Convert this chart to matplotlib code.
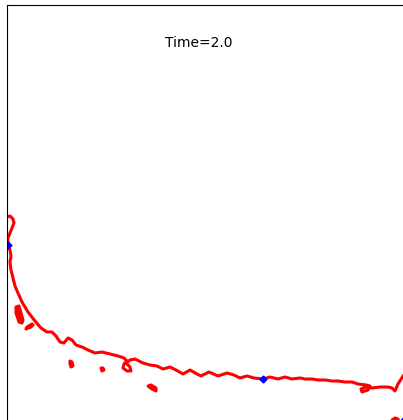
import matplotlib
matplotlib.use("Agg")
import matplotlib.pyplot as plt

# Interface contour at t = 2.0 (domain units)
front_x = [0, 3, 6, 7, 5, 3, 1, 1, 3, 4, 3, 4, 6, 8, 11, 15, 21, 28, 34, 40, 45, 49,
           53, 57, 61, 65, 69, 75, 81, 88, 95, 103, 111, 117, 120, 117, 116, 120, 124,
           123, 119, 123, 128, 136, 143, 150, 156, 163, 169, 176, 183, 190, 194, 202,
           211, 220, 227, 233, 240, 247, 256, 263, 271, 278, 285, 293, 298, 305, 311,
           318, 325, 331, 338, 345, 351, 359, 363, 361, 355, 354, 359, 365, 373, 381,
           385, 388, 391, 396, 401]
front_y = [208, 209, 206, 202, 197, 192, 187, 180, 175, 169, 163, 155, 147, 139, 132,
           123, 113, 104, 97, 93, 93, 89, 83, 82, 87, 85, 80, 78, 75, 72, 73, 71, 69,
           67, 64, 61, 57, 54, 54, 58, 62, 65, 66, 62, 60, 59, 56, 58, 55, 51, 55, 51,
           49, 53, 49, 52, 50, 47, 49, 47, 46, 48, 46, 48, 46, 47, 46, 46, 45, 45, 44,
           44, 43, 43, 41, 40, 39, 35, 33, 36, 38, 37, 38, 38, 37, 34, 41, 49, 55]

# Detached droplets
drop_a_x = [9, 12, 16, 15, 12, 9, 9]
drop_a_y = [118, 119, 105, 102, 103, 112, 118]
drop_b_x = [19, 20, 25, 26, 24, 19]
drop_b_y = [96, 98, 101, 100, 98, 96]
drop_c_x = [63, 65, 66, 64, 63, 63]
drop_c_y = [64, 63, 59, 58, 61, 64]
drop_d_x = [94, 96, 97, 95, 94]
drop_d_y = [57, 57, 55, 54, 57]
drop_e_x = [141, 144, 149, 149, 145, 141]
drop_e_y = [39, 40, 37, 34, 36, 39]
drop_f_x = [385, 388, 391, 392, 387, 385]
drop_f_y = [5, 7, 6, 3, 2, 5]
drops = [(drop_a_x, drop_a_y), (drop_b_x, drop_b_y), (drop_c_x, drop_c_y),
         (drop_d_x, drop_d_y), (drop_e_x, drop_e_y), (drop_f_x, drop_f_y)]

# Tracer particles
tracer_x = [1, 256, 396]
tracer_y = [180, 46, 4]

time_label = "Time=2.0"

fig = plt.figure(figsize=(4.03, 4.20), dpi=100)
ax = fig.add_axes([7 / 403, -5 / 420, 420 / 403, 1.0])
ax.set_xlim(0, 420)
ax.set_ylim(0, 420)
ax.set_xticks([])
ax.set_yticks([])

ax.plot(front_x, front_y, color="red", lw=2.2, solid_joinstyle="round",
        solid_capstyle="round")
for dx, dy in drops:
    ax.fill(dx, dy, facecolor="red", edgecolor="red", lw=2.2,
            joinstyle="round")
ax.plot(tracer_x, tracer_y, linestyle="none", marker="D", markersize=3.5,
        color="blue")

ax.text(192, 382, time_label, ha="center", va="center", fontsize=10)

fig.savefig("out.png", dpi=100)
